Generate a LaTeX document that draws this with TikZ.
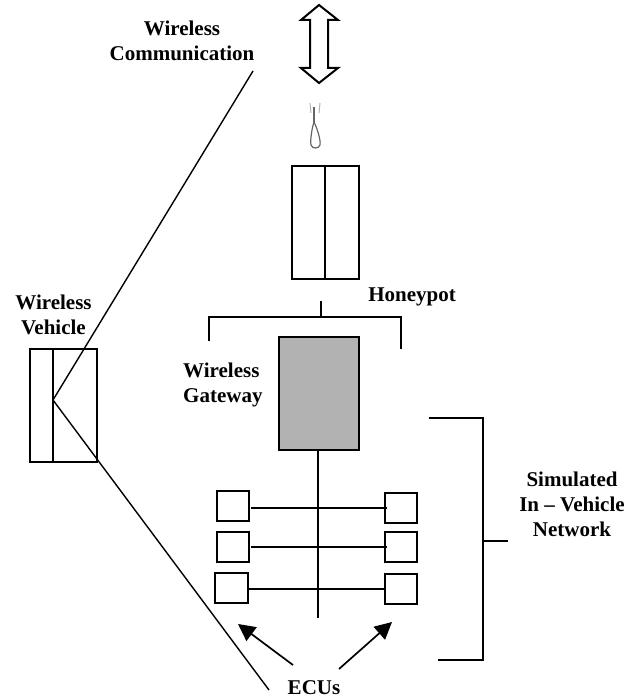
\documentclass[tikz,border=0pt]{standalone}
\usepackage{fontspec}
\setmainfont{Liberation Serif}
\usetikzlibrary{arrows.meta}
\tikzset{
  ln/.style={line width=1.7pt,black},
  lbl/.style={inner sep=0pt,font=\bfseries\fontsize{21}{25}\selectfont,align=center},
  ecu/.style={draw,line width=1.7pt,fill=white,inner sep=0pt,outer sep=0pt,anchor=north west},
  arr/.style={line width=1.7pt,-{Triangle[length=17pt,width=17pt]}},
  conn/.style={line width=1.4pt}
}
\begin{document}
\begin{tikzpicture}[x=1pt,y=-1pt]
\useasboundingbox (0,0) rectangle (637,698);
% double arrow
\draw[line width=2pt,line join=miter] (319,5) -- (338,20) -- (328,20) -- (328,68) -- (338,68) -- (319,83) -- (301,68) -- (310,68) -- (310,20) -- (301,20) -- cycle;
% antenna
\draw[line width=1.2pt,black!60] (314,107) -- (314,122);
\draw[line width=1pt,black!30] (310,103) -- (311,113) (320,103) -- (319,113);
\draw[line width=1.2pt,black!60] (314,122) .. controls (312,128) and (310,140) .. (311,145) .. controls (312,149) and (319,149) .. (320,145) .. controls (321,140) and (317,128) .. (314,122);
% honeypot box
\node[ecu,minimum width=67pt,minimum height=113pt] (hp) at (292,166) {};
\coordinate (hpt) at (325,166); \coordinate (hpb) at (325,279);
\draw[ln] (hpt) -- (hpb);
% bracket
\coordinate (bt) at (321,301); \coordinate (bm) at (321,317);
\draw[ln] (bt) -- (bm);
\coordinate (bl) at (209,341); \coordinate (br) at (401,349);
\draw[ln] (bl) -- (209,317) -- (401,317) -- (br);
% gateway
\node[ecu,fill=black!30,minimum width=80pt,minimum height=113pt] (gw) at (279,337) {};
\coordinate (busend) at (318,618);
\draw[ln] (318,450) -- (busend);
% ECUs
\node[ecu,minimum width=32pt,minimum height=30pt] (l1) at (217,491) {};
\node[ecu,minimum width=32pt,minimum height=30pt] (l2) at (217,532) {};
\node[ecu,minimum width=33pt,minimum height=30pt] (l3) at (215,573) {};
\node[ecu,minimum width=32pt,minimum height=30pt] (r1) at (385,493) {};
\node[ecu,minimum width=32pt,minimum height=30pt] (r2) at (385,532) {};
\node[ecu,minimum width=32pt,minimum height=30pt] (r3) at (385,574) {};
\draw[ln] (251,508) -- (387,508);
\draw[ln] (251,547) -- (387,547);
\draw[ln] (249,589) -- (385,589);
% vehicle
\node[ecu,minimum width=67pt,minimum height=113pt] (veh) at (30,349) {};
\draw[ln] (53,349) -- (53,462);
\coordinate (apex) at (53,400);
\coordinate (ct) at (253,71);
\coordinate (cb) at (269,690);
\draw[conn] (ct) -- (apex) -- (cb);
% right bracket
\coordinate (rt) at (429,418); \coordinate (rb) at (438,660); \coordinate (rm) at (508,541);
\draw[ln] (rt) -- (483,418) -- (483,660) -- (rb);
\draw[ln] (483,541) -- (rm);
% labels
\node[lbl] (wc) at (182,41) {Wireless\\Communication};
\node[lbl] (wv) at (53.5,315) {Wireless\\Vehicle};
\node[lbl] (hl) at (412,297) {Honeypot};
\node[lbl,align=left,anchor=west] (wg) at (183,385) {Wireless\\Gateway};
\node[lbl] (sn) at (572,504) {Simulated\\In – Vehicle\\Network};
\node[lbl] (ec) at (314,687.5) {ECUs};
% arrows
\draw[arr] (293,665) -- (238,624);
\draw[arr] (339,669) -- (392,622);
\end{tikzpicture}
\end{document}
